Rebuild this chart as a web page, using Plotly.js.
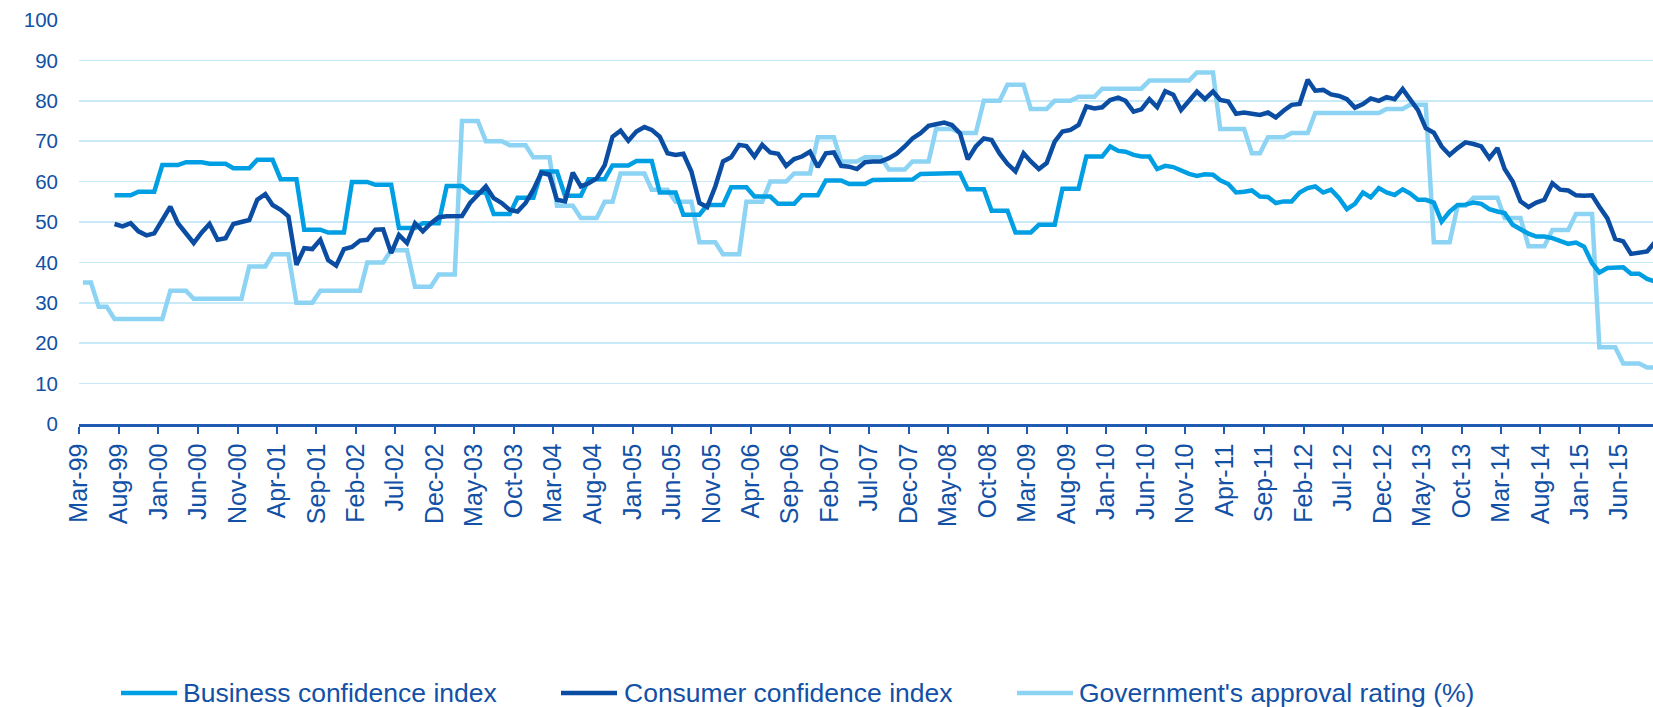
<!DOCTYPE html>
<html>
<head>
<meta charset="utf-8">
<script src="https://cdn.plot.ly/plotly-3.0.1.min.js"></script>
<style>
html,body{margin:0;padding:0;background:#fff;}
#chart{width:1653px;height:707px;}
</style>
</head>
<body>
<div id="chart"></div>
<script>
// ---- Data (monthly, starting Mar-99) ----
const startYear = 1999;
const startMonth = 3; // March
const seriesNames = ['Business confidence index', 'Consumer confidence index', "Government's approval rating (%)"];

const business = [
  null,null,null,null,
  56.6,56.6,56.6, 57.5,57.5,57.5, 64.1,64.1,64.1, 64.8,64.8,64.8, 64.4,64.4,64.4, 63.3,63.3,63.3,
  65.4,65.4,65.4, 60.6,60.6,60.6, 48.1,48.1,48.1, 47.4,47.4,47.4, 59.9,59.9,59.9, 59.2,59.2,59.2,
  48.5,48.5,48.5, 49.7,49.7,49.7, 58.9,58.9,58.9, 57.3,57.3,57.3, 52.0,52.0,52.0, 56.0,56.0,56.0,
  62.5,62.5,62.5, 56.5,56.5,56.5, 60.6,60.6,60.6, 64.0,64.0,64.0, 65.1,65.1,65.1, 57.3,57.3,57.3,
  51.8,51.8,51.8, 54.2,54.2,54.2, 58.6,58.6,58.6, 56.3,56.3,56.3, 54.5,54.5,54.5, 56.6,56.6,56.6,
  60.3,60.3,60.3, 59.4,59.4,59.4, 60.4,60.4,60.4, 60.5,60.5,60.5, 61.9,61.9,61.9, 62.1,62.1,62.1,
  58.1,58.1,58.1, 52.8,52.8,52.8, 47.4,47.4,47.4, 49.3,49.3,49.3, 58.2,58.2,58.2, 66.2,66.2,66.2,
  68.7,67.6,67.4,66.6,66.2,66.2,63.1,63.9,63.6,62.7,
  61.9,61.4,61.8,61.7,60.3,59.4,57.3,57.5,57.8,56.3,
  56.2,54.7,55.1,55.1,57.3,58.4,58.8,57.3,58.0,55.9,
  53.2,54.5,57.3,56.1,58.4,57.3,56.7,58.1,57.1,55.5,
  55.5,54.8,50.1,52.6,54.2,54.3,54.8,54.5,53.2,52.6,
  52.2,49.3,48.1,47.1,46.4,46.4,46.0,45.4,44.6,44.9,
  43.9,39.8,37.5,38.6,38.6,38.8,37.2,37.2,35.9,35.3
];

const consumer = [
  null,null,null,null,
  49.5,48.9,49.7,47.7,46.7,47.2,50.5,53.8,49.7,47.1,
  44.8,47.4,49.5,45.6,46.0,49.5,49.9,50.5,55.5,56.9,
  54.2,53.0,51.4,39.4,43.5,43.3,45.6,40.6,39.2,43.3,
  43.8,45.4,45.6,48.1,48.2,42.3,46.8,44.8,49.7,47.7,
  49.7,51.2,51.4,51.6,51.5,54.7,56.7,58.8,55.9,54.7,
  53.0,52.6,54.7,58.0,62.2,61.7,55.5,55.1,62.2,58.8,
  59.6,60.8,64.1,71.1,72.6,70.1,72.4,73.5,72.8,71.1,
  67.0,66.6,66.9,62.5,54.7,53.7,58.8,65.0,66.0,69.1,
  68.8,66.2,69.1,67.2,66.9,63.9,65.6,66.2,67.4,63.6,
  67.0,67.2,63.9,63.7,63.1,64.8,65.0,65.0,65.8,66.9,
  68.7,70.7,72.0,73.8,74.2,74.6,74.0,72.0,65.5,68.7,
  70.7,70.3,66.9,64.4,62.5,67.0,65.0,63.1,64.6,69.9,
  72.4,72.8,74.0,78.6,78.1,78.4,80.2,80.8,80.0,77.3,
  77.9,80.4,78.4,82.4,81.5,77.7,80.0,82.3,80.4,82.3,
  80.2,79.8,76.8,77.1,76.8,76.5,77.1,75.9,77.6,79.0,
  79.2,85.2,82.5,82.7,81.6,81.2,80.4,78.3,79.2,80.6,
  80.0,80.9,80.4,82.9,80.4,77.7,73.2,72.1,68.7,66.6,
  68.3,69.7,69.3,68.7,65.8,68.3,63.1,60.0,55.1,53.7,
  54.8,55.5,59.6,58.0,57.8,56.6,56.5,56.6,53.8,50.9,
  45.8,45.2,42.1,42.3,42.7,45.0
];

const government = [
  35,35, 29,29, 26,26,26,26,26,26,26, 33,33,33, 31,31,31,31,31,31,31,
  39,39,39, 42,42,42, 30,30,30, 33,33,33,33,33,33, 40,40,40, 43,43,43,
  34,34,34, 37,37,37, 75,75,75, 70,70,70, 69,69,69, 66,66,66,
  54,54,54, 51,51,51, 55,55, 62,62,62,62, 58,58,58, 55,55,55,
  45,45,45, 42,42,42, 55,55,55, 60,60,60, 62,62,62, 71,71,71,
  65,65,65, 66,66,66, 63,63,63, 65,65,65, 73,73,73, 72,72,72,
  80,80,80, 84,84,84, 78,78,78, 80,80,80, 81,81,81, 83,83,83,83,83,83,
  85,85,85,85,85,85, 87,87,87, 73,73,73,73, 67,67, 71,71,71, 72,72,72,
  77,77,77,77,77,77,77,77,77, 78,78,78, 79,79,79, 45,45,45,
  54,54, 56,56,56,56, 51,51,51, 44,44,44, 48,48,48, 52,52,52,
  19,19,19, 15,15,15, 14,14
];

const colors = ['#009FE3', '#0B4DA2', '#8CD3F4'];
const textColor = '#1251A6';
const axisColor = '#1F5BB3';
const gridColor = '#C8E9F8';
const font = '"Liberation Sans", Arial, sans-serif';

// month dates (points plotted mid-month)
function monthDate(k) {
  const m0 = startMonth - 1 + k;
  const y = startYear + Math.floor(m0 / 12);
  const m = (m0 % 12) + 1;
  return y + '-' + (m < 10 ? '0' + m : m) + '-16';
}
const dates = business.map((_, k) => monthDate(k));

const series = [business, consumer, government];
const traces = series.map((ys, i) => ({
  type: 'scatter',
  mode: 'lines',
  name: seriesNames[i],
  x: dates,
  y: ys,
  line: {color: colors[i], width: 4.5},
  connectgaps: false,
  showlegend: false,
  hoverinfo: 'skip'
}));
// draw order: gov, business, consumer (consumer on top)
const ordered = [traces[2], traces[0], traces[1]];

// plot area geometry (pixels)
const W = 1653, H = 707;
const mL = 79, mR = 0, mT = 20, mB = 283;
const pw = W - mL - mR, ph = H - mT - mB;
const px2x = px => (px - mL) / pw;
const py2y = py => (H - mB - py) / ph;

// custom legend
const legendY = 693;
const legendItems = [
  {sx: 121, tx: 181},
  {sx: 561, tx: 622},
  {sx: 1017, tx: 1077}
];
const shapes = legendItems.map((it, i) => ({
  type: 'line', xref: 'paper', yref: 'paper',
  x0: px2x(it.sx), x1: px2x(it.sx + 56),
  y0: py2y(legendY), y1: py2y(legendY),
  line: {color: colors[i], width: 4.5}
}));
const annotations = legendItems.map((it, i) => ({
  xref: 'paper', yref: 'paper',
  x: px2x(it.tx), y: py2y(legendY),
  xanchor: 'left', yanchor: 'middle',
  text: seriesNames[i], showarrow: false,
  font: {family: font, size: 26.5, color: textColor}
}));

const layout = {
  width: W, height: H,
  margin: {l: mL, r: mR, t: mT, b: mB, pad: 0},
  paper_bgcolor: '#ffffff',
  plot_bgcolor: '#ffffff',
  font: {family: font, color: textColor},
  xaxis: {
    type: 'date',
    range: ['1999-03-01', '2015-10-08 17:00'],
    tick0: '1999-03-01',
    dtick: 'M5',
    tickformat: '%b-%y',
    tickangle: -90,
    ticks: 'outside', ticklen: 7, tickwidth: 2, tickcolor: axisColor,
    showline: true, linecolor: axisColor, linewidth: 2.5,
    showgrid: false, zeroline: false,
    tickfont: {family: font, size: 25, color: textColor},
    fixedrange: true
  },
  yaxis: {
    range: [0, 100],
    dtick: 10, tick0: 0,
    showgrid: true, gridcolor: gridColor, gridwidth: 1.5,
    zeroline: false, showline: false,
    ticks: '', ticklabelstandoff: 20,
    tickfont: {family: font, size: 20.5, color: textColor},
    fixedrange: true
  },
  shapes: shapes,
  annotations: annotations,
  showlegend: false
};

Plotly.newPlot('chart', ordered, layout, {displayModeBar: false, staticPlot: true});
</script>
</body>
</html>
